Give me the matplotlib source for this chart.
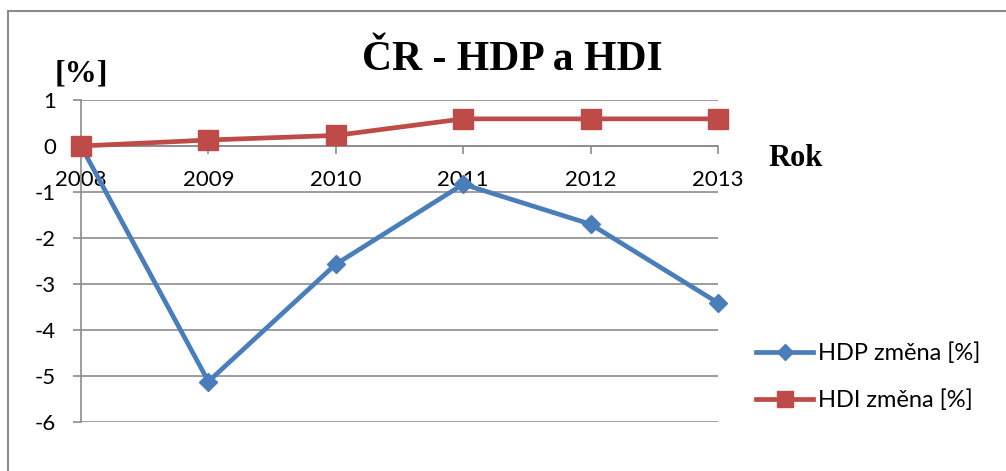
import matplotlib
matplotlib.use("Agg")
import matplotlib.pyplot as plt
from matplotlib.lines import Line2D

years = ["2008", "2009", "2010", "2011", "2012", "2013"]
hdp = [0.0, -5.12, -2.57, -0.83, -1.70, -3.41]
hdi = [0.0, 0.13, 0.23, 0.59, 0.59, 0.59]
yticks = [1, 0, -1, -2, -3, -4, -5, -6]

W, H = 1006, 471
fig = plt.figure(figsize=(W / 100, H / 100), dpi=100)
grey = "#8c8c8c"
tick_font = "Lato"

ax = fig.add_axes([81 / W, 1 - 422 / H, (718 - 81) / W, (422 - 100) / H])
x = list(range(len(years)))

ax.plot(x, hdp, color="#4a7ebb", lw=3.4, marker="D", ms=9, label="HDP změna [%]",
        clip_on=False, zorder=3)
ax.plot(x, hdi, color="#be4b48", lw=3.4, marker="s", ms=14, label="HDI změna [%]",
        clip_on=False, zorder=4)

for s in ["top", "right"]:
    ax.spines[s].set_visible(False)
ax.spines["bottom"].set_position(("data", 0))
ax.spines["bottom"].set_color(grey)
ax.spines["left"].set_color(grey)
ax.spines["bottom"].set_linewidth(1.2)
ax.spines["left"].set_linewidth(1.2)

ax.set_xlim(0, len(years) - 1)
ax.set_ylim(-6, 1)
ax.set_yticks(yticks)
ax.set_yticklabels([str(v) if v >= 0 else "-" + str(-v) for v in yticks])
ax.set_xticks(x)
ax.set_xticklabels(years)
ax.set_axisbelow(True)
ax.grid(axis="y", color=grey, lw=1.2)
ax.tick_params(axis="both", labelsize=16, labelfontfamily=tick_font)
ax.tick_params(axis="x", direction="out", length=6, width=1.2, color=grey, pad=11)
ax.tick_params(axis="y", direction="out", length=6, width=1.2, color=grey, pad=12)

# outer chart frame (cropped on the right and bottom)
fig.add_artist(Line2D([8 / W, 8 / W], [0, 1 - 11 / H], color=grey, lw=1.5))
fig.add_artist(Line2D([8 / W, 1], [1 - 11 / H, 1 - 11 / H], color=grey, lw=1.5))

fig.text(512 / W, 1 - 70 / H, "ČR - HDP a HDI", ha="center", va="baseline",
         fontfamily="Liberation Serif", fontweight="bold", fontsize=30)
fig.text(55 / W, 1 - 81 / H, "[%]", ha="left", va="baseline",
         fontfamily="Liberation Serif", fontweight="bold", fontsize=23)
fig.text(768 / W, 1 - 166 / H, "Rok", ha="left", va="baseline",
         fontfamily="Liberation Serif", fontweight="bold", fontsize=22)

leg = ax.legend(loc="upper left", bbox_to_anchor=(735 / W, 1 - 321 / H),
                bbox_transform=fig.transFigure, frameon=False,
                prop={"family": tick_font, "size": 17}, handlelength=2.4,
                handletextpad=0.2, labelspacing=1.1, markerscale=0.85)

fig.savefig("out.png", dpi=100)
